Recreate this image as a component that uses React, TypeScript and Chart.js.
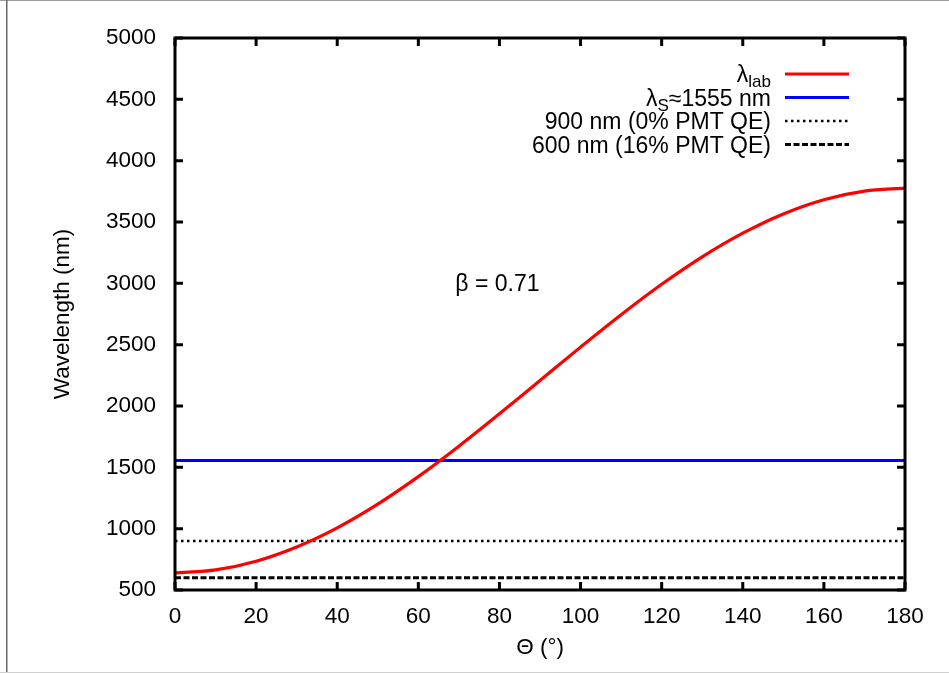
import React, { useEffect, useRef } from "react";
import { Chart, registerables } from "chart.js";

Chart.register(...registerables);

// ---- data ----
const theta = [0, 10, 20, 30, 40, 50, 60, 70, 80, 90, 100, 110, 120, 130, 140, 150, 160, 170, 180];
const lambdaLab = [640, 664, 735, 851, 1007, 1200, 1424, 1672, 1936, 2208, 2480, 2744, 2992, 3216, 3409, 3566, 3682, 3752, 3776];
const lambdaS = 1555;
const cutoff0 = 900;
const cutoff16 = 600;
const xRange = [0, 180];
const yRange = [500, 5000];
const xStep = 20;
const yStep = 500;
const xTitle = "Θ (°)";
const yTitle = "Wavelength (nm)";
const annotation = { x: 79.5, y: 3000, text: "β = 0.71" };

// legend rows: parts with optional subscript
const legendRows = [
  { parts: [{ t: "λ" }, { t: "lab", sub: true }], color: "#ff0000", dash: [] as number[], width: 3 },
  { parts: [{ t: "λ" }, { t: "S", sub: true }, { t: "≈1555 nm" }], color: "#0000ff", dash: [] as number[], width: 3 },
  { parts: [{ t: "900 nm (0% PMT QE)" }], color: "#000000", dash: [2.5, 3.5], width: 2.5 },
  { parts: [{ t: "600 nm (16% PMT QE)" }], color: "#000000", dash: [6, 2.5], width: 3 },
];

const FONT = '"Liberation Sans", Arial, Helvetica, sans-serif';
const FS = 22.5;
const W = 949;
const H = 673;
const LEFT = 175;
const RIGHT = 905;
const TOP = 38;
const BOTTOM = 590;

const gnuplotPlugin = {
  id: "gnuplotDecor",
  beforeDraw(chart: any) {
    const ctx = chart.ctx;
    ctx.save();
    ctx.fillStyle = "#ffffff";
    ctx.fillRect(0, 0, W, H);
    // image border
    ctx.fillStyle = "#a0a0a0";
    ctx.fillRect(0, 0, W, 1);
    ctx.fillStyle = "#666666";
    ctx.fillRect(6, 0, 1.5, H);
    ctx.fillStyle = "#d0d0d0";
    ctx.fillRect(0, H - 1, W, 1);
    ctx.restore();
  },
  afterDraw(chart: any) {
    const ctx = chart.ctx;
    const a = chart.chartArea;
    const xs = chart.scales.x;
    const ys = chart.scales.y;
    ctx.save();
    // frame
    ctx.strokeStyle = "#000";
    ctx.lineWidth = 3;
    ctx.setLineDash([]);
    ctx.strokeRect(a.left, a.top, a.right - a.left, a.bottom - a.top);
    // inward ticks on all four sides
    const tl = 8;
    ctx.beginPath();
    for (let v = xRange[0]; v <= xRange[1]; v += xStep) {
      const px = xs.getPixelForValue(v);
      ctx.moveTo(px, a.bottom);
      ctx.lineTo(px, a.bottom - tl);
      ctx.moveTo(px, a.top);
      ctx.lineTo(px, a.top + tl);
    }
    for (let v = yRange[0]; v <= yRange[1]; v += yStep) {
      const py = ys.getPixelForValue(v);
      ctx.moveTo(a.left, py);
      ctx.lineTo(a.left + tl, py);
      ctx.moveTo(a.right, py);
      ctx.lineTo(a.right - tl, py);
    }
    ctx.stroke();

    // axis titles
    ctx.fillStyle = "#000";
    ctx.font = `${FS}px ${FONT}`;
    ctx.textAlign = "center";
    ctx.textBaseline = "middle";
    ctx.fillText(xTitle, (a.left + a.right) / 2, 648);
    ctx.save();
    ctx.translate(63, (a.top + a.bottom) / 2);
    ctx.rotate(-Math.PI / 2);
    ctx.fillText(yTitle, 0, 0);
    ctx.restore();

    // annotation
    ctx.font = `23px ${FONT}`;
    ctx.fillText(annotation.text, xs.getPixelForValue(annotation.x), ys.getPixelForValue(annotation.y) + 1);

    // legend
    const textRight = 771;
    const sampleL = 785;
    const sampleR = 849;
    const rowY0 = 74;
    const rowDy = 23.5;
    const big = `23px ${FONT}`;
    const small = `17px ${FONT}`;
    legendRows.forEach((row, i) => {
      const cy = rowY0 + i * rowDy;
      const baseline = cy + 8;
      const widths = row.parts.map((p: any) => {
        ctx.font = p.sub ? small : big;
        return ctx.measureText(p.t).width;
      });
      const total = widths.reduce((s: number, w: number) => s + w, 0);
      let x = textRight - total;
      ctx.textAlign = "left";
      ctx.textBaseline = "alphabetic";
      row.parts.forEach((p: any, j: number) => {
        ctx.font = p.sub ? small : big;
        ctx.fillText(p.t, x, p.sub ? baseline + 5 : baseline);
        x += widths[j];
      });
      ctx.strokeStyle = row.color;
      ctx.lineWidth = row.width;
      ctx.setLineDash(row.dash);
      ctx.beginPath();
      ctx.moveTo(sampleL, cy);
      ctx.lineTo(sampleR, cy);
      ctx.stroke();
    });
    ctx.restore();
  },
};

export default function App() {
  const ref = useRef<HTMLCanvasElement | null>(null);
  useEffect(() => {
    document.body.style.margin = "0";
    const canvas = ref.current!;
    const hLine = (v: number) => [
      { x: xRange[0], y: v },
      { x: xRange[1], y: v },
    ];
    const chart = new Chart(canvas, {
      type: "line",
      data: {
        datasets: [
          {
            label: "λlab",
            data: theta.map((t, i) => ({ x: t, y: lambdaLab[i] })),
            borderColor: "#ff0000",
            borderWidth: 3.2,
            pointRadius: 0,
            cubicInterpolationMode: "monotone",
            fill: false,
          },
          {
            label: "λS≈1555 nm",
            data: hLine(lambdaS),
            borderColor: "#0000ff",
            borderWidth: 3,
            pointRadius: 0,
            fill: false,
          },
          {
            label: "900 nm (0% PMT QE)",
            data: hLine(cutoff0),
            borderColor: "#000000",
            borderWidth: 2.5,
            borderDash: [2.5, 3.5],
            pointRadius: 0,
            fill: false,
          },
          {
            label: "600 nm (16% PMT QE)",
            data: hLine(cutoff16),
            borderColor: "#000000",
            borderWidth: 3,
            borderDash: [6, 2.5],
            pointRadius: 0,
            fill: false,
          },
        ],
      },
      options: {
        animation: false,
        responsive: false,
        devicePixelRatio: 1,
        layout: { padding: { left: 0, top: TOP, right: W - RIGHT, bottom: 0 } },
        plugins: { legend: { display: false }, tooltip: { enabled: false }, title: { display: false } },
        scales: {
          x: {
            type: "linear",
            min: xRange[0],
            max: xRange[1],
            grid: { display: false },
            border: { display: false },
            ticks: {
              stepSize: xStep,
              color: "#000",
              font: { family: FONT, size: FS },
              padding: 5,
              maxRotation: 0,
              callback: (v: any) => String(v),
            },
            afterFit: (s: any) => {
              s.height = H - BOTTOM;
            },
          },
          y: {
            type: "linear",
            min: yRange[0],
            max: yRange[1],
            grid: { display: false },
            border: { display: false },
            ticks: {
              stepSize: yStep,
              color: "#000",
              font: { family: FONT, size: FS },
              padding: 11,
              callback: (v: any) => String(v),
            },
            afterFit: (s: any) => {
              s.width = LEFT;
            },
          },
        },
      } as any,
      plugins: [gnuplotPlugin],
    });
    return () => chart.destroy();
  }, []);
  return (
    <div style={{ position: "fixed", left: 0, top: 0, width: W, height: H }}>
      <canvas ref={ref} width={W} height={H} style={{ display: "block" }} />
    </div>
  );
}
